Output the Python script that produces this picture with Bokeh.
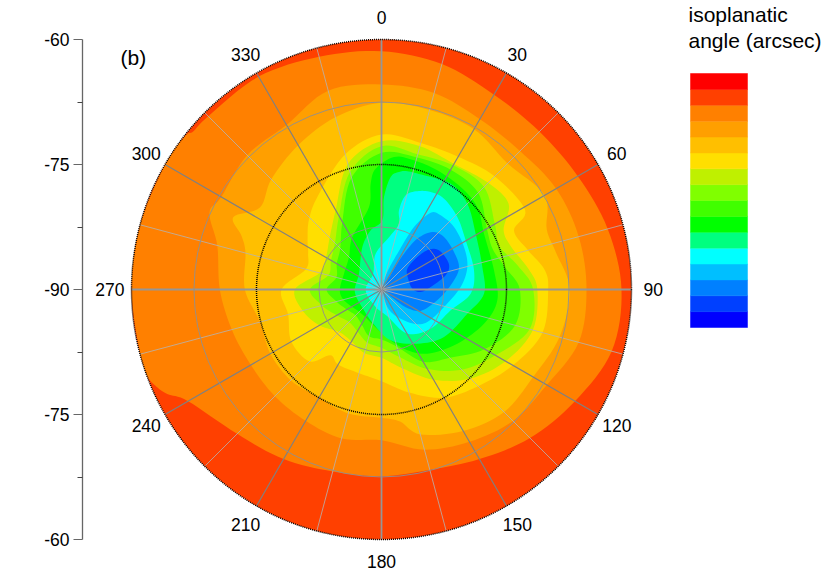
from math import sin, cos, radians, hypot, pi
from bokeh.plotting import figure
from bokeh.models import Range1d, FixedTicker, LinearAxis, Label
from bokeh.embed import file_html
from bokeh.resources import INLINE
from bokeh.core.properties import value

COLORBAR = ["#0000FF", "#0040FF", "#0080FF", "#00BFFF", "#00FFFF", "#00FF80", "#00FF00", "#40FF00",
            "#80FF00", "#BFF000", "#FFDF00", "#FFBF00", "#FF9F00", "#FF8000", "#FF4000", "#FF0000"]

AZ_LABELS = [0, 30, 60, 90, 120, 150, 180, 210, 240, 270, 300, 330]
LAT_TICKS = [-30, -15, 0, 15, 30]
LAT_LABELS = ["-60", "-75", "-90", "-75", "-60"]
GRID_RINGS = [7.5, 22.5]
DOTTED_RINGS = [15, 30]

# polar contours: azimuth (deg), colatitude (deg from the pole)
AZ_14 = [0,15,30,45,60,75,90,105,120,135,150,165,180,195,210,225,240,244,247,250,255,270,285,300,308,310,315,330,345]
R_14 = [28.6,28.0,27.0,26.8,27.2,28.1,28.8,28.6,26.8,25.2,23.5,22.4,22.4,22.6,23.5,24.5,26.8,28.6,29.5,30,30,30,30,30,29.9,29.5,29.4,29.5,28.9]
AZ_13 = [0,15,30,45,60,75,90,105,120,135,150,165,180,195,210,225,240,255,270,285,294,300,315,330,345]
R_13 = [24.6,24.4,23.6,23.5,24.2,24.5,24.6,24.5,22.9,22.3,21.1,19.9,18.1,18.5,18.2,18.1,18.1,18.6,19.4,20.4,22.6,22.2,22.8,22.8,24.7]
AZ_12 = [0,15,30,45,60,70,78,90,105,120,135,150,165,172,180,195,210,225,240,255,270,285,291,296,304,315,330,345]
R_12 = [22.4,22.3,22.2,21.4,22.6,21.1,21.4,22.6,22.1,21.0,20.8,19.6,18.0,16.0,15.4,15.4,15.0,15.4,15.4,15.1,16.4,16.9,18.0,19.8,17.6,18.7,20.0,21.4]
AZ_11 = [0,15,30,45,61,66,75,83,90,105,120,135,150,165,180,195,210,218,225,240,255,270,285,296,304,314,326,345]
R_11 = [18.6,18.2,18.4,19.2,19.7,17.4,18.2,19.7,20.0,20.0,18.2,16.4,15.0,12.8,11.0,10.4,10.4,10.0,12.2,12.5,11.6,12.0,9.4,9.8,10.7,12.1,13.6,16.8]
AZ_10 = [0,15,30,45,56,64,72,82,90,105,120,135,150,165,180,195,210,225,240,255,270,285,300,315,330,345]
R_10 = [17.8,17.8,17.4,18.1,18.4,16.3,16.4,17.8,18.7,18.8,17.2,15.1,12.5,9.8,8.2,7.9,7.2,7.2,8.6,9.8,10.4,7.7,7.7,8.8,11.0,15.6]
AZ_9 = [0,15,30,45,60,70,80,90,105,120,135,150,165,180,195,210,225,240,255,270,285,300,315,330,345]
R_9 = [17.2,16.8,17.2,17.4,15.7,15.1,16.6,18.2,18.4,15.8,13.6,11.0,8.4,7.0,6.6,5.8,5.5,6.2,7.4,8.6,6.6,7.0,7.9,10.2,14.6]
R_8 = [16.4,16.4,16.6,16.4,14.6,14.2,15.1,16.6,16.6,14.3,11.6,10.0,7.1,6.0,5.8,4.8,4.4,4.8,5.6,6.6,5.6,6.2,7.0,9.4,13.9]

# map-plane contours (deg east, deg north of the pole)
X_7 = [-0.7,-1.3,-1.5,-3.5,-3.9,-4.5,-5.0,-4.4,-2.4,0.0,2.7,5.5,9.1,12.3,13.9,13.5,12.3,11.5,9.5,6.7,3.9,1.5]
Y_7 = [14.5,12.7,9.9,6.3,3.9,1.9,-0.1,-1.4,-2.9,-5.2,-7.1,-7.7,-6.5,-4.1,-1.3,2.3,6.7,9.9,12.3,14.3,15.5,15.9]
X_6 = [2.1,1.1,0.3,0.1,-1.3,-2.3,-2.7,-3.2,-2.1,-0.9,1.1,4.3,7.5,10.3,12.3,12.1,11.3,10.3,8.3,5.1,3.1]
Y_6 = [14.1,13.5,11.1,8.3,7.1,5.1,1.9,-0.3,-2.5,-4.2,-6.1,-6.5,-5.7,-2.9,-0.5,2.7,6.7,10.3,12.7,13.7,14.2]
X_5 = [4.3,2.9,2.1,2.1,1.1,-0.7,-1.0,-1.9,-0.7,0.7,3.1,5.9,8.3,10.7,11.1,10.1,9.1,7.5,5.9]
Y_5 = [11.8,11.3,9.5,7.9,6.5,4.3,1.9,-0.1,-2.1,-3.2,-5.3,-4.7,-2.5,-0.5,2.3,5.9,8.7,10.9,11.7]
X_4 = [5.9,3.9,1.9,0.7,0.0,0.7,1.9,3.9,5.5,7.5,9.5,10.3,9.9,8.7,7.1]
Y_4 = [9.2,7.5,4.3,2.1,0.1,-2.1,-3.3,-4.1,-3.9,-2.1,0.3,2.7,5.1,7.5,8.9]
X_3 = [0.4,1.3,2.7,4.3,6.1,7.5,8.7,9.3,8.7,7.1,4.9,3.3,1.7]
Y_3 = [0.1,2.1,4.3,6.1,6.9,6.3,4.5,2.7,1.1,-0.9,-2.5,-2.3,-1.3]
X_2 = [3.1,4.3,5.7,6.9,7.9,8.1,7.5,5.9,4.7,3.7,3.2]
Y_2 = [2.5,3.9,4.8,4.7,3.5,2.5,1.5,0.3,-0.3,0.1,1.3]


def polar(az, r):
    return [c * sin(radians(a)) for a, c in zip(az, r)], [c * cos(radians(a)) for a, c in zip(az, r)]


def smooth(xs, ys, n=8):
    """closed Catmull-Rom outline through the contour's vertices, kept inside the disk"""
    m = len(xs)
    ox, oy = [], []
    for i in range(m):
        p0 = (xs[i - 1], ys[i - 1]); p1 = (xs[i], ys[i])
        p2 = (xs[(i + 1) % m], ys[(i + 1) % m]); p3 = (xs[(i + 2) % m], ys[(i + 2) % m])
        for k in range(n):
            t = k / n
            q = [0.5 * (2 * p1[d] + (p2[d] - p0[d]) * t + (2 * p0[d] - 5 * p1[d] + 4 * p2[d] - p3[d]) * t * t
                        + (3 * p1[d] - p0[d] - 3 * p2[d] + p3[d]) * t ** 3) for d in (0, 1)]
            rr = hypot(*q)
            if rr > 30:
                q = [q[0] * 30 / rr, q[1] * 30 / rr]
            ox.append(q[0]); oy.append(q[1])
    return ox, oy


CONTOURS = [
    (COLORBAR[13], polar(AZ_14, R_14)), (COLORBAR[12], polar(AZ_13, R_13)), (COLORBAR[11], polar(AZ_12, R_12)),
    (COLORBAR[10], polar(AZ_11, R_11)), (COLORBAR[9], polar(AZ_10, R_10)), (COLORBAR[8], polar(AZ_9, R_9)),
    (COLORBAR[7], polar(AZ_9, R_8)), (COLORBAR[6], (X_7, Y_7)), (COLORBAR[5], (X_6, Y_6)),
    (COLORBAR[4], (X_5, Y_5)), (COLORBAR[3], (X_4, Y_4)), (COLORBAR[2], (X_3, Y_3)), (COLORBAR[1], (X_2, Y_2)),
]

# layout: picture pixels (the figure's corner lands at the picture's corner)
W, H = 828, 574
FRAME_L, CX, CY, SCALE = 82, 381, 289, 250 / 30
FONT = value("Liberation Sans")
px = lambda v: (v - CX) / SCALE
py = lambda v: (CY - v) / SCALE

p = figure(width=W, height=H, output_backend="svg", toolbar_location=None, min_border_left=FRAME_L,
           min_border_right=0, min_border_top=0, min_border_bottom=0,
           x_range=Range1d(px(FRAME_L), px(W)), y_range=Range1d(py(H), py(0)),
           x_axis_location=None, y_axis_location=None, outline_line_color=None)
p.grid.visible = False
p.background_fill_color = "white"

# latitude axis
axis = LinearAxis(ticker=FixedTicker(ticks=LAT_TICKS, minor_ticks=[-22.5, -7.5, 7.5, 22.5]),
                  major_label_overrides={t: s for t, s in zip(LAT_TICKS, LAT_LABELS)},
                  bounds=(-30, 30), major_label_text_font="Liberation Sans", major_label_text_font_size="17.5px",
                  major_label_text_color="black", major_label_standoff=4, axis_line_color="#666666", axis_line_width=1.3,
                  major_tick_line_color="#666666", major_tick_in=0, major_tick_out=9, minor_tick_line_color="#444444",
                  minor_tick_in=0, minor_tick_out=5)
p.add_layout(axis, "left")
p.add_layout(Label(x=px(15), y=py(295), text="Latitude (degrees)", angle=pi / 2, text_font="Liberation Sans",
                   text_font_size="21px", text_color="black", text_align="center", text_baseline="middle"))

# filled contours
p.circle(x=[0], y=[0], radius=30, fill_color=COLORBAR[14], line_color=None)
for color, (xs, ys) in CONTOURS:
    ox, oy = smooth(xs, ys)
    p.patch(ox, oy, fill_color=color, line_color=None)

# polar grid
for az in range(0, 360, 15):
    s, c = sin(radians(az)), cos(radians(az))
    if az % 90 == 0:
        col, w = "#969696", 1.8
    elif az % 30 == 0:
        col, w = "#808080", 1.2
    else:
        col, w = "#b4b4b4", 0.8
    p.line([0, 30 * s], [0, 30 * c], line_color=col, line_width=w)
for r in GRID_RINGS:
    p.circle(x=[0], y=[0], radius=r, fill_color=None, line_color="#909090", line_width=0.9)
for r in DOTTED_RINGS:
    p.circle(x=[0], y=[0], radius=r, fill_color=None, line_color="black", line_width=1.5, line_dash="1 1")

# azimuth labels
LR = 32.6
p.text(x=[LR * sin(radians(a)) for a in AZ_LABELS], y=[LR * cos(radians(a)) for a in AZ_LABELS],
       text=[str(a) for a in AZ_LABELS], text_font=FONT, text_font_size="17.5px", text_color="black",
       text_align="center", text_baseline="middle")

# other texts
p.text(x=[px(120)], y=[py(57)], text=["(b)"], text_font=FONT, text_font_size="21px", text_color="black",
       text_align="left", text_baseline="middle")
p.text(x=[px(688), px(688)], y=[py(14), py(40)], text=["isoplanatic", "angle (arcsec)"], text_font=FONT,
       text_font_size="21px", text_color="black", text_align="left", text_baseline="middle")

# colour bar, one cell per level
n = len(COLORBAR)
per = (327 - 73) / n
p.extra_y_ranges = {"cbar": Range1d(-(H - 327) / per, n + 73 / per)}
p.quad(left=[px(690)] * n, right=[px(747)] * n, bottom=list(range(n)), top=[i + 1 for i in range(n)],
       fill_color=COLORBAR, line_color=COLORBAR, line_width=0.5, y_range_name="cbar")

open("out.html", "w").write(file_html(p, INLINE))
